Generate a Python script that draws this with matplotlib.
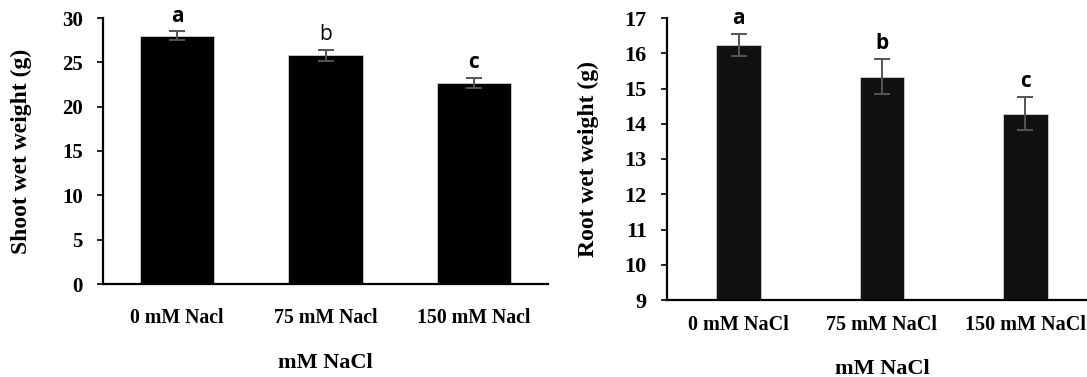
import matplotlib.pyplot as plt

# data
shoot_labels = ["0 mM Nacl", "75 mM Nacl", "150 mM Nacl"]
shoot_mean = [28.0, 25.8, 22.7]
shoot_err = [0.5, 0.6, 0.55]
shoot_letters = ["a", "b", "c"]

root_labels = ["0 mM NaCl", "75 mM NaCl", "150 mM NaCl"]
root_mean = [16.24, 15.34, 14.29]
root_err = [0.32, 0.5, 0.48]
root_letters = ["a", "b", "c"]

serif = "Liberation Serif"
W, H = 1087, 377
fig = plt.figure(figsize=(W / 100, H / 100), dpi=100)


def panel(rect, labels, mean, err, letters, color, width, ylim, yticks, ylabel,
          fs_tick, fs_x, fs_lab, pad_x, labelpad, letter_weights):
    ax = fig.add_axes(rect)
    x = range(len(mean))
    ax.bar(x, [m - ylim[0] for m in mean], bottom=ylim[0], width=width,
           color=color, edgecolor="#d0d0d0", linewidth=0.6, zorder=2)
    ax.errorbar(x, mean, yerr=err, fmt="none", ecolor="#555555",
                elinewidth=1.4, capsize=5.5, capthick=1.4, zorder=3)
    for xi, m, e, lt, w in zip(x, mean, err, letters, letter_weights):
        ax.annotate(lt, (xi, m + e), xytext=(0, 15), textcoords="offset pixels",
                    ha="center", va="center", fontsize=15,
                    family="Open Sans", fontweight=w)
    ax.set_xlim(-0.5, len(mean) - 0.5)
    ax.set_ylim(*ylim)
    ax.set_yticks(yticks)
    ax.set_xticks(list(x))
    ax.set_xticklabels(labels, family=serif, fontweight="bold", fontsize=fs_x)
    ax.set_yticklabels([str(t) for t in yticks], family=serif,
                       fontweight="bold", fontsize=fs_tick)
    ax.tick_params(axis="x", length=0, pad=pad_x)
    ax.tick_params(axis="y", length=4.5, width=1.2, pad=10)
    for s in ["top", "right"]:
        ax.spines[s].set_visible(False)
    for s in ["left", "bottom"]:
        ax.spines[s].set_linewidth(1.6)
    ax.set_ylabel(ylabel, family=serif, fontweight="bold", fontsize=fs_lab)
    ax.set_xlabel("mM NaCl", family=serif, fontweight="bold", fontsize=16,
                  labelpad=labelpad)
    return ax


ax1 = panel([103 / W, 1 - 284 / H, 445 / W, 266 / H], shoot_labels, shoot_mean,
            shoot_err, shoot_letters, "black", 0.5, (0, 30),
            list(range(0, 31, 5)), "Shoot wet weight (g)", 15, 14.3, 17, 17, 18,
            ["bold", "normal", "bold"])
ax1.yaxis.set_label_coords(-71 / 445, 0.5)

ax2 = panel([667 / W, 1 - 300 / H, 430 / W, 282 / H], root_labels, root_mean,
            root_err, root_letters, "#111111", 0.31, (9, 17),
            list(range(9, 18)), "Root wet weight (g)", 16, 14.5, 17, 11, 17,
            ["bold", "bold", "bold"])
ax2.yaxis.set_label_coords(-68 / 430, 0.5)

fig.savefig("out.png", dpi=100)
